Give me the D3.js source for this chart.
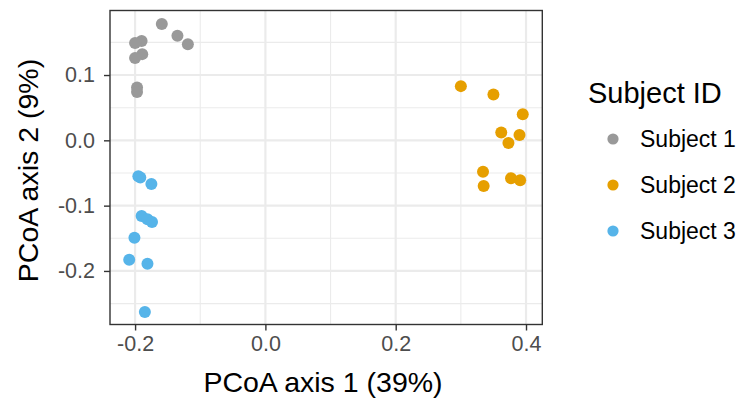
<html lang="en">
  <head>
    <meta charset="utf-8">
    <script src="https://d3js.org/d3.v7.min.js"></script>
    <style type="text/css">
body {
  margin: 0;
  background: white;
  font-family: "Liberation Sans", Arial, Helvetica, sans-serif;
}
    </style>
  </head>
  <body>
    <div id="chart"></div>

    <script type="text/javascript">
const subjects = ["Subject 1", "Subject 2", "Subject 3"];
const colours = ["#999999", "#E69F00", "#56B4E9"];

// PCoA coordinates, one pair of arrays per subject
const s1Axis1 = [-0.159, -0.135, -0.119, -0.190, -0.200, -0.189, -0.200, -0.197, -0.197];
const s1Axis2 = [0.178, 0.160, 0.147, 0.152, 0.149, 0.132, 0.126, 0.081, 0.074];
const s2Axis1 = [0.300, 0.350, 0.395, 0.362, 0.390, 0.373, 0.334, 0.335, 0.377, 0.391];
const s2Axis2 = [0.083, 0.070, 0.040, 0.012, 0.008, -0.004, -0.048, -0.070, -0.058, -0.061];
const s3Axis1 = [-0.195, -0.192, -0.175, -0.190, -0.181, -0.174, -0.201, -0.209, -0.181, -0.185];
const s3Axis2 = [-0.055, -0.057, -0.067, -0.116, -0.121, -0.125, -0.149, -0.183, -0.189, -0.263];

const xTicks = [-0.2, 0.0, 0.2, 0.4];
const xMinor = [-0.1, 0.1, 0.3];
const yTicks = [-0.2, -0.1, 0.0, 0.1];
const yMinor = [-0.25, -0.15, -0.05, 0.05, 0.15];

const xTitle = "PCoA axis 1 (39%)";
const yTitle = "PCoA axis 2 (9%)";
const legendTitle = "Subject ID";

const width = 740, height = 400;
const panel = {left: 110, right: 542.3, top: 10.5, bottom: 324.5};

let points = [];
[[s1Axis1, s1Axis2], [s2Axis1, s2Axis2], [s3Axis1, s3Axis2]].forEach((pair, i) => {
  pair[0].forEach((v, j) => points.push({x: v, y: pair[1][j], subject: subjects[i]}));
});

let color = d3.scaleOrdinal().domain(subjects).range(colours);

let x = d3.scaleLinear()
  .domain([-0.2385, 0.425])
  .range([panel.left, panel.right]);

let y = d3.scaleLinear()
  .domain([-0.282, 0.1988])
  .range([panel.bottom, panel.top]);

let svg = d3.select("#chart").append("svg")
  .attr("width", width)
  .attr("height", height);

// grid, minor first then major
let grid = svg.append("g");
grid.selectAll(".xminor").data(xMinor).join("line")
  .attr("x1", d => x(d)).attr("x2", d => x(d))
  .attr("y1", panel.top).attr("y2", panel.bottom)
  .attr("stroke", "#EBEBEB").attr("stroke-width", 1.1);
grid.selectAll(".yminor").data(yMinor).join("line")
  .attr("y1", d => y(d)).attr("y2", d => y(d))
  .attr("x1", panel.left).attr("x2", panel.right)
  .attr("stroke", "#EBEBEB").attr("stroke-width", 1.1);
grid.selectAll(".xmajor").data(xTicks).join("line")
  .attr("x1", d => x(d)).attr("x2", d => x(d))
  .attr("y1", panel.top).attr("y2", panel.bottom)
  .attr("stroke", "#EBEBEB").attr("stroke-width", 2.2);
grid.selectAll(".ymajor").data(yTicks).join("line")
  .attr("y1", d => y(d)).attr("y2", d => y(d))
  .attr("x1", panel.left).attr("x2", panel.right)
  .attr("stroke", "#EBEBEB").attr("stroke-width", 2.2);

// points
svg.append("g")
  .selectAll("circle")
  .data(points)
  .join("circle")
    .attr("cx", d => x(d.x))
    .attr("cy", d => y(d.y))
    .attr("r", 6)
    .attr("fill", d => color(d.subject));

// panel border
svg.append("rect")
  .attr("x", panel.left).attr("y", panel.top)
  .attr("width", panel.right - panel.left)
  .attr("height", panel.bottom - panel.top)
  .attr("fill", "none")
  .attr("stroke", "#333333")
  .attr("stroke-width", 1.4);

let fmt = d => d === 0 ? "0.0" : d3.format(".1f")(d).replace("−", "-");

let xAxis = g => g
  .attr("transform", `translate(0,${panel.bottom})`)
  .call(d3.axisBottom(x).tickValues(xTicks).tickFormat(fmt).tickSizeOuter(0).tickSize(6).tickPadding(5))
  .call(g => g.select(".domain").remove())
  .call(g => g.selectAll(".tick line").attr("stroke", "#333333").attr("stroke-width", 1.4))
  .call(g => g.selectAll(".tick text")
    .attr("fill", "#4D4D4D")
    .attr("font-size", 21.5)
    .attr("font-family", "Liberation Sans, Arial, sans-serif"));

let yAxis = g => g
  .attr("transform", `translate(${panel.left},0)`)
  .call(d3.axisLeft(y).tickValues(yTicks).tickFormat(fmt).tickSizeOuter(0).tickSize(6).tickPadding(9))
  .call(g => g.select(".domain").remove())
  .call(g => g.selectAll(".tick line").attr("stroke", "#333333").attr("stroke-width", 1.4))
  .call(g => g.selectAll(".tick text")
    .attr("fill", "#4D4D4D")
    .attr("font-size", 21.5)
    .attr("font-family", "Liberation Sans, Arial, sans-serif"));

svg.append("g").call(xAxis);
svg.append("g").call(yAxis);

// axis titles
svg.append("text")
  .attr("x", 323)
  .attr("y", 392)
  .attr("text-anchor", "middle")
  .attr("font-size", 28.5)
  .attr("fill", "black")
  .text(xTitle);

svg.append("text")
  .attr("transform", `translate(38,${(panel.top + panel.bottom) / 2 + 3}) rotate(-90)`)
  .attr("text-anchor", "middle")
  .attr("font-size", 28.5)
  .attr("fill", "black")
  .text(yTitle);

// legend
let legend = svg.append("g");
legend.append("text")
  .attr("x", 588)
  .attr("y", 103)
  .attr("font-size", 29)
  .attr("fill", "black")
  .text(legendTitle);

let keys = legend.selectAll(".key")
  .data(subjects)
  .join("g")
    .attr("transform", (d, i) => `translate(613,${139 + i * 46})`);
keys.append("circle")
  .attr("r", 5.6)
  .attr("fill", d => color(d));
keys.append("text")
  .attr("x", 27)
  .attr("dy", "0.35em")
  .attr("font-size", 23)
  .attr("fill", "black")
  .text(d => d);
    </script>
  </body>
</html>
